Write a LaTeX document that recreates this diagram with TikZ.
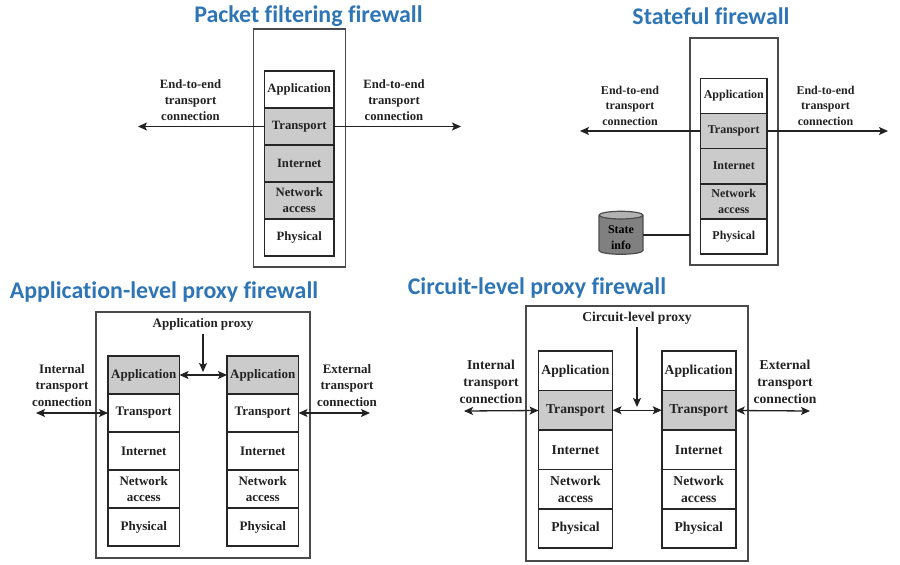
\documentclass[tikz,border=0pt]{standalone}
\usepackage{fontspec}
\setmainfont{Liberation Serif}
\newfontfamily\titlefont[Ligatures = NoCommon]{Carlito}
\usetikzlibrary{arrows.meta, shapes.geometric}
\definecolor{titleblue}{HTML}{2E75B6}
\definecolor{layergray}{HTML}{CBCBCB}
\definecolor{inkgray}{HTML}{222222}
\definecolor{boxgray}{HTML}{4A4A4A}
\tikzstyle{every node} = [align = center]
\tikzset{
    >={Stealth[length = 9pt, width = 8pt, inset = 2pt]},
    heading/.style = {font = \titlefont\bfseries\fontsize{23.9}{26}\selectfont, text = titleblue, inner sep = 0},
    label/.style = {text = inkgray, inner sep = 0},
    firewall/.style = {draw = boxgray, line width = 1.3pt, inner sep = 0, outer sep = 0},
    layer/.style = {draw = black!85, line width = 1.8pt, inner sep = 0, outer sep = 0, fill = white, text = inkgray},
    passlayer/.style = {layer, fill = layergray},
    link/.style = {<->, line width = 1.3pt, draw = inkgray},
    exit/.style = {->, line width = 1.3pt, draw = inkgray},
    pf/.style = {minimum width = 69.5, minimum height = 37, font = \bfseries\fontsize{12.7}{16}\selectfont},
    sf/.style = {minimum width = 66.5, minimum height = 35, font = \bfseries\fontsize{12}{15.5}\selectfont},
    ap/.style = {minimum width = 71.5, minimum height = 38, font = \bfseries\fontsize{13}{16.5}\selectfont},
    cp/.style = {minimum width = 74, minimum height = 39.5, font = \bfseries\fontsize{13.6}{17}\selectfont}
}
\begin{document}
\begin{tikzpicture}[x = 1pt, y = -1pt]
    \useasboundingbox (0, 0) rectangle (900, 565);
    % packet filtering
    \node [heading] (pftitle) at (308.5, 16.5) {Packet filtering firewall};
    \node [firewall, minimum width = 92.5, minimum height = 238] (pffw) at (299.5, 148) {};
    \node [layer, pf] (pfapp) at (299.25, 89.5) {Application};
    \node [passlayer, pf] (pftrans) at (299.25, 126.5) {Transport};
    \node [passlayer, pf] (pfnet) at (299.25, 163.5) {Internet};
    \node [passlayer, pf] (pfacc) at (299.25, 200.5) {Network\\access};
    \node [layer, pf] (pfphy) at (299.25, 237.5) {Physical};
    \coordinate (pfleft) at (138, 126.5);
    \coordinate (pfright) at (461, 126.5);
    \draw [exit] (pftrans.west) -- (pfleft);
    \draw [exit] (pftrans.east) -- (pfright);
    \node [label, pf] (pfleftlabel) at (190.5, 100) {End-to-end\\transport\\connection};
    \node [label, pf] (pfrightlabel) at (394, 100) {End-to-end\\transport\\connection};
    % stateful
    \node [heading] (sftitle) at (711, 16) {Stateful firewall};
    \node [firewall, minimum width = 88, minimum height = 227] (sffw) at (734, 151.5) {};
    \node [layer, sf] (sfapp) at (733.75, 96) {Application};
    \node [passlayer, sf] (sftrans) at (733.75, 131) {Transport};
    \node [passlayer, sf] (sfnet) at (733.75, 166) {Internet};
    \node [passlayer, sf] (sfacc) at (733.75, 201.5) {Network\\access};
    \node [layer, sf] (sfphy) at (733.75, 236.75) {Physical};
    \coordinate (sfleft) at (580, 131);
    \coordinate (sfright) at (888, 131);
    \draw [exit] (sftrans.west) -- (sfleft);
    \draw [exit] (sftrans.east) -- (sfright);
    \node [label, sf] (sfleftlabel) at (630, 105.5) {End-to-end\\transport\\connection};
    \node [label, sf] (sfrightlabel) at (825.5, 105.5) {End-to-end\\transport\\connection};
    \node [cylinder, shape border rotate = 90, aspect = 0.32, draw = black!70, line width = 1.2pt,
        cylinder uses custom fill, cylinder body fill = black!50, cylinder end fill = black!30,
        minimum width = 44, minimum height = 43, inner sep = 0, outer sep = 0, font = \fontsize{12}{15.5}\selectfont]
        (state) at (621, 235) {\phantom{State}\\\phantom{info}};
    \node [label, sf, text = black] (statetext) at (621, 237.5) {State\\info};
    \draw [line width = 1.3pt, draw = inkgray] (state.east) -- (sffw.west |- state.east);
    % application proxy
    \node [heading] (aptitle) at (164, 291.5) {Application-level proxy firewall};
    \node [firewall, minimum width = 214, minimum height = 246] (apfw) at (203, 435) {};
    \node [passlayer, ap] (apappa) at (143.75, 375) {Application};
    \node [layer, ap] (aptransa) at (143.75, 413) {Transport};
    \node [layer, ap] (apneta) at (143.75, 451) {Internet};
    \node [layer, ap] (apacca) at (143.75, 489) {Network\\access};
    \node [layer, ap] (apphya) at (143.75, 527) {Physical};
    \node [passlayer, ap] (apappb) at (262.75, 375) {Application};
    \node [layer, ap] (aptransb) at (262.75, 413) {Transport};
    \node [layer, ap] (apnetb) at (262.75, 451) {Internet};
    \node [layer, ap] (apaccb) at (262.75, 489) {Network\\access};
    \node [layer, ap] (apphyb) at (262.75, 527) {Physical};
    \node [label, ap, minimum height = 0] (approxy) at (203, 324.5) {Application proxy};
    \coordinate (apmeet) at (203, 372);
    \coordinate (apleft) at (36, 413);
    \coordinate (apright) at (370, 413);
    \draw [link] (apappa) -- (apappb);
    \draw [exit] (approxy.south) ++(0, 3) -- (apmeet);
    \draw [link] (apleft) -- (aptransa);
    \draw [link] (aptransb) -- (apright);
    \node [label, ap] (apleftlabel) at (62, 385.5) {Internal\\transport\\connection};
    \node [label, ap] (aprightlabel) at (347, 385.5) {External\\transport\\connection};
    % circuit proxy
    \node [heading] (cptitle) at (537, 287.5) {Circuit-level proxy firewall};
    \node [firewall, minimum width = 222, minimum height = 255] (cpfw) at (637, 433.5) {};
    \node [layer, cp] (cpappa) at (575.5, 370.75) {Application};
    \node [passlayer, cp] (cptransa) at (575.5, 410.25) {Transport};
    \node [layer, cp] (cpneta) at (575.5, 449.75) {Internet};
    \node [layer, cp] (cpacca) at (575.5, 489.25) {Network\\access};
    \node [layer, cp] (cpphya) at (575.5, 528.5) {Physical};
    \node [layer, cp] (cpappb) at (698.75, 370.75) {Application};
    \node [passlayer, cp] (cptransb) at (698.75, 410.25) {Transport};
    \node [layer, cp] (cpnetb) at (698.75, 449.75) {Internet};
    \node [layer, cp] (cpaccb) at (698.75, 489.25) {Network\\access};
    \node [layer, cp] (cpphyb) at (698.75, 528.5) {Physical};
    \node [label, cp, minimum height = 0] (cpproxy) at (637, 318) {Circuit-level proxy};
    \coordinate (cpmeet) at (637, 407);
    \coordinate (cpleft) at (464, 411);
    \coordinate (cpright) at (810, 411);
    \draw [link] (cptransa) -- (cptransb);
    \draw [exit] (cpproxy.south) ++(0, 3) -- (cpmeet);
    \draw [link] (cpleft) -- (cptransa);
    \draw [link] (cptransb) -- (cpright);
    \node [label, cp] (cpleftlabel) at (491, 381.5) {Internal\\transport\\connection};
    \node [label, cp] (cprightlabel) at (785, 381.5) {External\\transport\\connection};
\end{tikzpicture}
\end{document}
